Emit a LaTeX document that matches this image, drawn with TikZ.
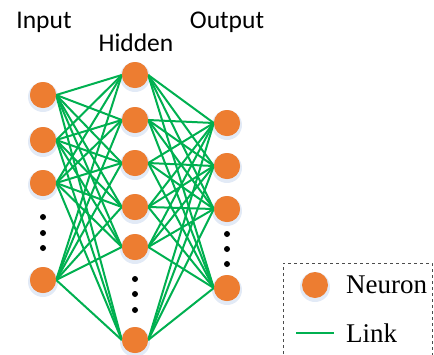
\documentclass[tikz,border=0pt]{standalone}
\usepackage{fontspec}
\setmainfont{Liberation Serif}
\newfontfamily\labelfont{Carlito}
\definecolor{neuronorange}{HTML}{ED7D31}
\definecolor{linkgreen}{HTML}{00B050}
\definecolor{glow}{HTML}{E2EAF6}
\begin{document}
\begin{tikzpicture}[x=1pt,y=-1pt,
  neuron/.style={circle,fill=neuronorange,minimum size=26pt,inner sep=0pt},
  halo/.style={circle,fill=glow,minimum size=30pt,inner sep=0pt},
  link/.style={draw=linkgreen,line width=2pt},
  dot/.style={circle,fill=black,minimum size=6pt,inner sep=0pt},
  layertitle/.style={font=\labelfont\fontsize{25.5}{25.5}\selectfont,inner sep=0pt},
  legendtext/.style={font=\fontsize{27}{27}\selectfont,anchor=west,inner sep=0pt}]
\useasboundingbox (0,0) rectangle (434,354);

% layer titles
\node[layertitle] (tin) at (44,22) {Input};
\node[layertitle] (thid) at (136,43) {Hidden};
\node[layertitle] (tout) at (227,22) {Output};

% soft halos under the neurons
\foreach \x/\y in {43/95,43/140,43/183,43/280,
                   135/75,135/120,135/163,135/207,135/247,135/340,
                   227/123,227/166,227/209,227/288,315/285}
  \node[halo] at (\x,\y+2) {};

% input layer
\node[neuron] (i1) at (43,95) {};
\node[neuron] (i2) at (43,140) {};
\node[neuron] (i3) at (43,183) {};
\node[neuron] (i4) at (43,280) {};
% hidden layer
\node[neuron] (h1) at (135,75) {};
\node[neuron] (h2) at (135,120) {};
\node[neuron] (h3) at (135,163) {};
\node[neuron] (h4) at (135,207) {};
\node[neuron] (h5) at (135,247) {};
\node[neuron] (h6) at (135,340) {};
% output layer
\node[neuron] (o1) at (227,123) {};
\node[neuron] (o2) at (227,166) {};
\node[neuron] (o3) at (227,209) {};
\node[neuron] (o4) at (227,288) {};

% full connections between layers
\foreach \a in {1,2,3,4}
  \foreach \b in {1,...,6}
    \draw[link] (i\a.east) -- (h\b.west);
\foreach \a in {1,...,6}
  \foreach \b in {1,2,3,4}
    \draw[link] (h\a.east) -- (o\b.west);

% redraw neurons above the links
\foreach \n in {i1,i2,i3,i4,h1,h2,h3,h4,h5,h6,o1,o2,o3,o4}
  \fill[neuronorange] (\n.center) circle (13pt);

% ellipsis dots
\node[dot] (di1) at (43,217) {};
\node[dot] (di2) at (43,233) {};
\node[dot] (di3) at (43,248) {};
\node[dot] (dh1) at (135,279) {};
\node[dot] (dh2) at (135,294) {};
\node[dot] (dh3) at (135,310) {};
\node[dot] (do1) at (227,234) {};
\node[dot] (do2) at (227,249) {};
\node[dot] (do3) at (227,264) {};

% legend
\draw[dashed,draw=black!70,line width=0.8pt] (283,360) -- (283,263) -- (432,263) -- (432,360);
\node[neuron] (ln) at (315,285) {};
\node[legendtext] (lnt) at (346,285) {Neuron};
\coordinate (ll1) at (296,333);
\coordinate (ll2) at (334,333);
\draw[link,line width=2.5pt] (ll1) -- (ll2);
\node[legendtext] (llt) at (346,333) {Link};
\end{tikzpicture}
\end{document}
